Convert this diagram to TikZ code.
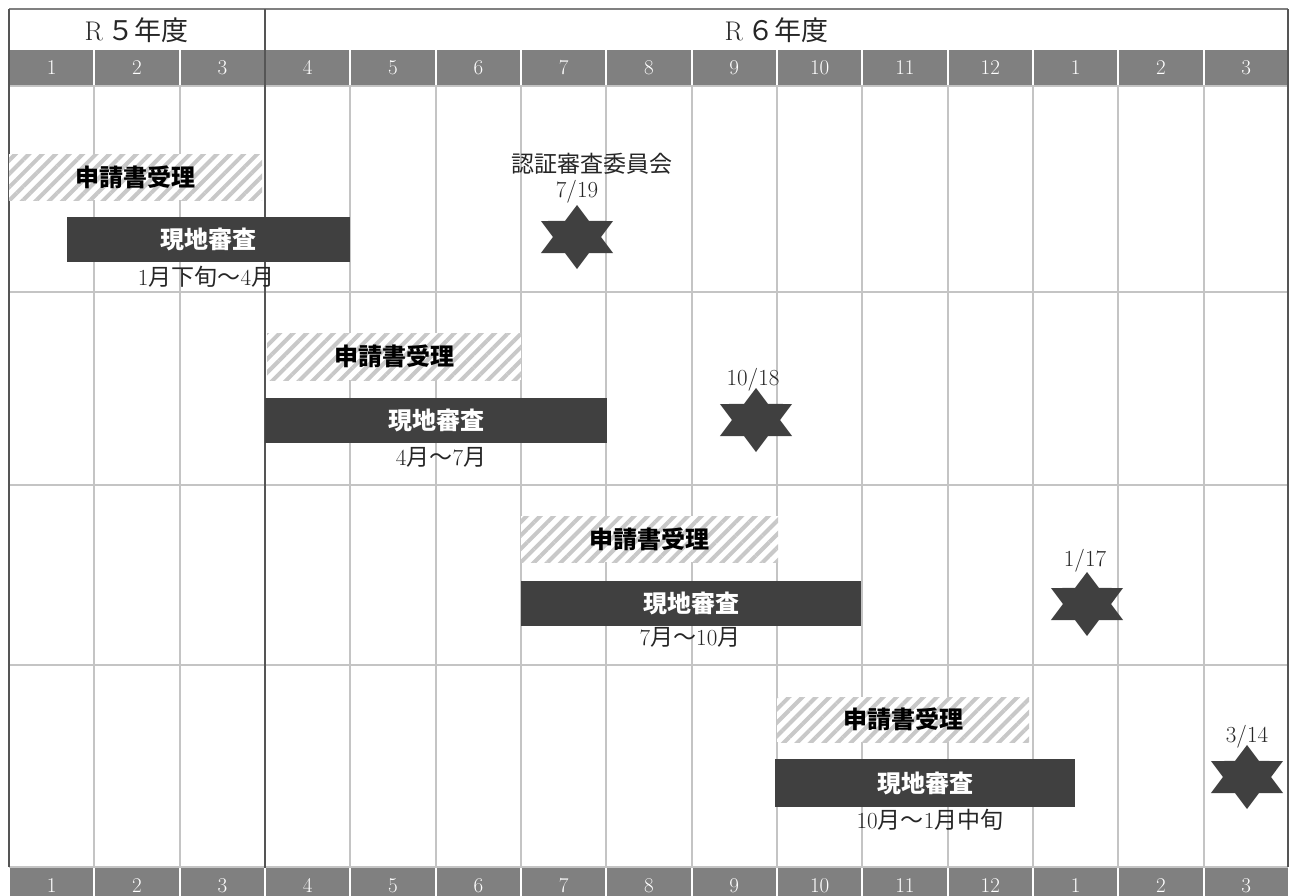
\documentclass[tikz,border=0pt]{standalone}
\usepackage{fontspec}
\newfontfamily\jpf{Noto Sans CJK JP}
\usetikzlibrary{patterns.meta}
\definecolor{bardark}{HTML}{404040}
\definecolor{headgray}{HTML}{808080}
\definecolor{gridlight}{HTML}{C4C4C4}
\definecolor{griddark}{HTML}{555555}
\definecolor{stripe}{HTML}{C8C8C8}
\newcommand\J[1]{{\jpf #1}}
\tikzset{
  hatchbar/.style={preaction={fill=white}, pattern={Lines[angle=45,distance=9.5pt,line width=4pt]}, pattern color=stripe, inner sep=0pt, font=\jpf\bfseries\fontsize{24}{24}\selectfont, text=black},
  darkbar/.style={fill=bardark, inner sep=0pt, font=\jpf\bfseries\fontsize{24}{24}\selectfont, text=white},
  monthcell/.style={fill=headgray, inner sep=0pt, minimum width=83.3pt, text=white, font=\fontsize{21}{21}\selectfont},
  yearlabel/.style={inner sep=0pt, text=black!85, font=\fontsize{27}{27}\selectfont},
  datelabel/.style={inner sep=0pt, text=black!85, font=\fontsize{23}{23}\selectfont},
  lightline/.style={draw=gridlight, line width=2pt},
  darkline/.style={draw=griddark, line width=1.6pt},
  hexstar/.pic={\fill[bardark, xscale=1.3] (90:32) -- (120:18.5) -- (150:32) -- (180:18.5) -- (210:32) -- (240:18.5) -- (270:32) -- (300:18.5) -- (330:32) -- (0:18.5) -- (30:32) -- (60:18.5) -- cycle;}
}
\begin{document}
\begin{tikzpicture}[x=1pt,y=-1pt]
\clip (0,0) rectangle (1291,895);
\fill[white] (0,0) rectangle (1291,895);
% month header rows
\foreach \m [count=\i from 0] in {1,2,3,4,5,6,7,8,9,10,11,12,1,2,3}{
  \node[monthcell, minimum height=35pt] (mt\i) at ({9+85.33*\i+42.67},67.5) {\m};
  \node[monthcell, minimum height=35pt] (mb\i) at ({9+85.33*\i+42.67},885.5) {\m};
}
% light grid
\foreach \i in {1,2,4,5,6,7,8,9,10,11,12,13,14}{
  \draw[lightline] ({9+85.33*\i},86) -- ({9+85.33*\i},866.5);
}
\foreach \yy in {86,291.5,484.5,665,866.5}{
  \draw[lightline] (9,\yy) -- (1288,\yy);
}
% borders
\draw[draw=headgray, line width=1.6pt] (9,9) -- (1288,9);
\draw[darkline] (9,9) -- (9,867);
\draw[darkline] (1288,9) -- (1288,867);
\draw[darkline] (265,9) -- (265,868);
% year labels
\node[yearlabel] (r5) at (136.5,30) {R\,\J{５年度}};
\node[yearlabel] (r6) at (776.5,30) {R\,\J{６年度}};
% row 1
\node[hatchbar, minimum width=253pt, minimum height=46pt] (h1) at (135.5,177) {申請書受理};
\node[darkbar, minimum width=283pt, minimum height=45pt] (d1) at (208.5,239.5) {現地審査};
\node[datelabel] (l1) at (206,277) {1\J{月下旬～}4\J{月}};
\node[datelabel] (c1) at (592,164) {\J{認証審査委員会}};
\node[datelabel] (t1) at (577,192) {7/19};
\pic (s1) at (577,237) {hexstar};
% row 2
\node[hatchbar, minimum width=254pt, minimum height=47pt] (h2) at (394,356.5) {申請書受理};
\node[darkbar, minimum width=342pt, minimum height=45pt] (d2) at (436,420.5) {現地審査};
\node[datelabel] (l2) at (441,457) {4\J{月～}7\J{月}};
\node[datelabel] (t2) at (753,380) {10/18};
\pic (s2) at (756,420) {hexstar};
% row 3
\node[hatchbar, minimum width=257pt, minimum height=46pt] (h3) at (649.5,539) {申請書受理};
\node[darkbar, minimum width=340pt, minimum height=45pt] (d3) at (691,603.5) {現地審査};
\node[datelabel] (l3) at (690,637) {7\J{月～}10\J{月}};
\node[datelabel] (t3) at (1085,561) {1/17};
\pic (s3) at (1087,604) {hexstar};
% row 4
\node[hatchbar, minimum width=252pt, minimum height=45pt] (h4) at (903,719.5) {申請書受理};
\node[darkbar, minimum width=300pt, minimum height=48pt] (d4) at (925,783) {現地審査};
\node[datelabel] (l4) at (930,820) {10\J{月～}1\J{月中旬}};
\node[datelabel] (t4) at (1247,737) {3/14};
\pic (s4) at (1247,777) {hexstar};
\end{tikzpicture}
\end{document}
